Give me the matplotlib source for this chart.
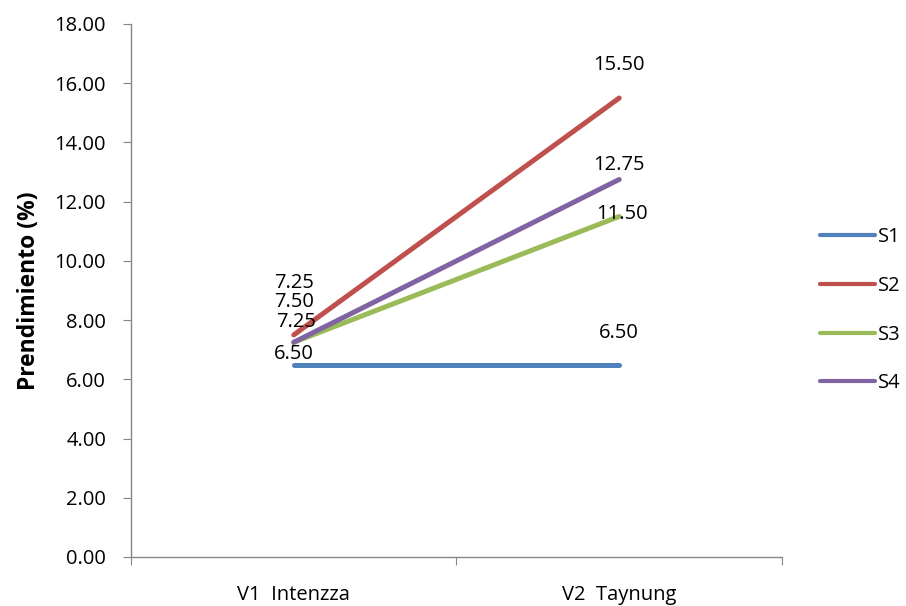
import matplotlib.pyplot as plt

plt.rcParams['font.family'] = ['Open Sans', 'DejaVu Sans']

categories = ["V1  Intenzza", "V2  Taynung"]
series_names = ["S1", "S2", "S3", "S4"]
s1 = [6.50, 6.50]
s2 = [7.50, 15.50]
s3 = [7.25, 11.50]
s4 = [7.25, 12.75]
colors = ["#4F81BD", "#C0504D", "#9BBB59", "#8064A2"]

# label offsets (points) for each series at each category
label_offsets = [
    [(0, 7.5), (0, 22.5)],
    [(0, 23.5), (0, 23.5)],
    [(2, 14.5), (2, 2)],
    [(0, 42.5), (0, 10.5)],
]

fs = 14.5

fig = plt.figure(figsize=(9.06, 6.06), dpi=100)
ax = fig.add_axes([0.1446, 0.0809, 0.7185, 0.8795])

xs = [0.5, 1.5]
for name, vals, c, offs in zip(series_names, [s1, s2, s3, s4], colors, label_offsets):
    ax.plot(xs, vals, color=c, lw=3.6, solid_capstyle='round', label=name)
    for x, v, o in zip(xs, vals, offs):
        ax.annotate(f"{v:.2f}", (x, v), xytext=o, textcoords='offset points',
                    ha='center', va='center', fontsize=fs)

ax.set_xlim(0, 2)
ax.set_ylim(0, 18)
ax.set_yticks(range(0, 19, 2))
ax.set_yticklabels([f"{v:.2f}" for v in range(0, 19, 2)], fontsize=fs)
ax.set_xticks([0, 1, 2])
ax.set_xticklabels([])
ax.set_xticks(xs, minor=True)
ax.set_xticklabels(categories, minor=True, fontsize=fs)
ax.tick_params(axis='x', which='minor', length=0, pad=20)
ax.tick_params(axis='x', which='major', length=6, color='#868686', direction='out')
ax.tick_params(axis='y', length=6, color='#868686', direction='out', pad=12)

for s in ['top', 'right']:
    ax.spines[s].set_visible(False)
for s in ['left', 'bottom']:
    ax.spines[s].set_color('#868686')
    ax.spines[s].set_linewidth(1)

ax.set_ylabel("Prendimiento (%)", fontsize=16.5, fontweight='bold', labelpad=10)

leg = fig.legend(loc='center left', bbox_to_anchor=(0.885, 0.488), frameon=False,
                 fontsize=fs, handlelength=2.75, labelspacing=1.43, handletextpad=0.15)
for h in leg.get_lines():
    h.set_linewidth(3)

fig.savefig("out.png", dpi=100)
